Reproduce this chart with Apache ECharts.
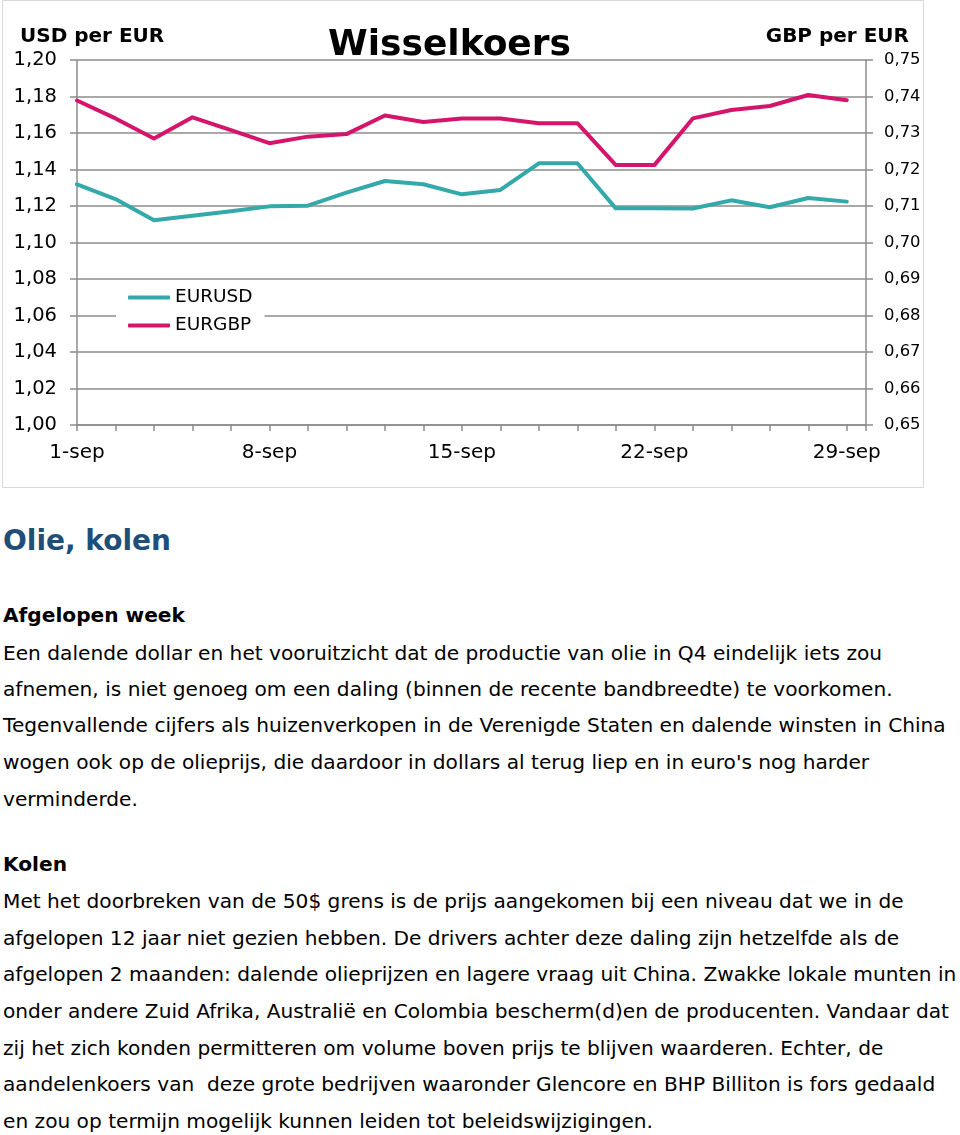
<!DOCTYPE html>
<html>
<head>
<meta charset="utf-8">
<script src="https://cdn.jsdelivr.net/npm/echarts@6/dist/echarts.min.js"></script>
<style>
  html, body { margin: 0; padding: 0; background: #fff; }
  body { width: 960px; height: 1135px; position: relative; overflow: hidden; font-family: "DejaVu Sans", Verdana, sans-serif; color: #000; }
  #chart { position: absolute; left: 0; top: 0; width: 960px; height: 490px; }
  .ln { position: absolute; left: 3px; white-space: pre; font-size: 20.15px; line-height: 36px; height: 36px; }
  .b { font-weight: bold; }
  .h { font-weight: bold; color: #1F4E79; font-size: 28px; line-height: 40px; height: 40px; }
</style>
</head>
<body>
<div id="chart"></div>
<div class="ln h" style="top:521px">Olie, kolen</div>
<div class="ln b" style="top:597px">Afgelopen week</div>
<div class="ln" style="top:635px">Een dalende dollar en het vooruitzicht dat de productie van olie in Q4 eindelijk iets zou</div>
<div class="ln" style="top:671px">afnemen, is niet genoeg om een daling (binnen de recente bandbreedte) te voorkomen.</div>
<div class="ln" style="top:707px">Tegenvallende cijfers als huizenverkopen in de Verenigde Staten en dalende winsten in China</div>
<div class="ln" style="top:744px">wogen ook op de olieprijs, die daardoor in dollars al terug liep en in euro's nog harder</div>
<div class="ln" style="top:781px">verminderde.</div>
<div class="ln b" style="top:846px">Kolen</div>
<div class="ln" style="top:883px">Met het doorbreken van de 50$ grens is de prijs aangekomen bij een niveau dat we in de</div>
<div class="ln" style="top:920px">afgelopen 12 jaar niet gezien hebben. De drivers achter deze daling zijn hetzelfde als de</div>
<div class="ln" style="top:956px">afgelopen 2 maanden: dalende olieprijzen en lagere vraag uit China. Zwakke lokale munten in</div>
<div class="ln" style="top:993px">onder andere Zuid Afrika, Australië en Colombia bescherm(d)en de producenten. Vandaar dat</div>
<div class="ln" style="top:1030px">zij het zich konden permitteren om volume boven prijs te blijven waarderen. Echter, de</div>
<div class="ln" style="top:1066px">aandelenkoers van  deze grote bedrijven waaronder Glencore en BHP Billiton is fors gedaald</div>
<div class="ln" style="top:1103px">en zou op termijn mogelijk kunnen leiden tot beleidswijzigingen.</div>
<script>
// Business days of September (x categories)
var dates = ['1-sep','2-sep','3-sep','4-sep','7-sep','8-sep','9-sep','10-sep','11-sep',
             '14-sep','15-sep','16-sep','17-sep','18-sep','21-sep','22-sep','23-sep','24-sep','25-sep',
             '28-sep','29-sep'];
// EUR/USD (left axis)
var eurusd = [1.1319,1.1238,1.1122,1.1147,1.1171,1.1198,1.1202,1.1273,1.1337,1.1319,1.1264,
              1.1288,1.1434,1.1434,1.1187,1.1187,1.1186,1.1231,1.1193,1.1244,1.1224];
// EUR/GBP (right axis)
var eurgbp = [0.7389,0.7340,0.7285,0.7343,0.7308,0.7272,0.7290,0.7297,0.7348,0.7330,0.7340,
              0.7340,0.7327,0.7327,0.7212,0.7212,0.7340,0.7363,0.7374,0.7404,0.7390];
var seriesNames = ['EURUSD','EURGBP'];
var leftTicks = {min: 1.00, max: 1.20, interval: 0.02};
var rightTicks = {min: 0.65, max: 0.75, interval: 0.01};

var FONT = '"DejaVu Sans", Verdana, sans-serif';
var GRID = '#8c8c8c';
function comma(v){ return v.toFixed(2).replace('.', ','); }

var chart = echarts.init(document.getElementById('chart'), null, {renderer: 'canvas'});
chart.setOption({
  animation: false,
  textStyle: {fontFamily: FONT},
  graphic: [
    {type: 'rect', shape: {x: 2.5, y: 0.5, width: 921, height: 487}, style: {fill: 'none', stroke: '#d9d9d9', lineWidth: 1}, z: -1},
    {type: 'text', left: 328, top: 28, style: {text: 'Wisselkoers', font: 'bold 36px ' + FONT, fill: '#000'}},
    {type: 'text', left: 20, top: 27, style: {text: 'USD per EUR', font: 'bold 20px ' + FONT, fill: '#000'}},
    {type: 'text', right: 51, top: 27, style: {text: 'GBP per EUR', font: 'bold 20px ' + FONT, fill: '#000'}}
  ],
  grid: {left: 77, right: 94, top: 60, bottom: 65},
  legend: {
    orient: 'vertical', left: 116, top: 284, itemGap: 9,
    padding: [4, 12, 4, 12],
    backgroundColor: '#fff',
    itemWidth: 42, itemHeight: 4, icon: 'roundRect',
    textStyle: {fontSize: 18.5, color: '#000', fontFamily: FONT},
    data: seriesNames
  },
  xAxis: {
    type: 'value', min: 0, max: dates.length - 0.5, interval: 1,
    axisLine: {show: true, lineStyle: {color: GRID, width: 1.5}},
    axisTick: {show: true, length: 6, lineStyle: {color: GRID, width: 1.5}},
    splitLine: {show: false},
    axisLabel: {
      fontSize: 20, color: '#000', margin: 18, fontFamily: FONT,
      formatter: function(v){ return (Number.isInteger(v) && v % 5 === 0 && dates[v]) ? dates[v] : ''; }
    }
  },
  yAxis: [
    {
      type: 'value', position: 'left', min: leftTicks.min, max: leftTicks.max, interval: leftTicks.interval,
      axisLine: {show: true, lineStyle: {color: GRID, width: 1.5}},
      axisTick: {show: true, length: 7, lineStyle: {color: GRID, width: 1.5}},
      splitLine: {show: true, lineStyle: {color: GRID, width: 1.5}},
      axisLabel: {fontSize: 19.5, color: '#000', margin: 20, fontFamily: FONT, formatter: comma}
    },
    {
      type: 'value', position: 'right', min: rightTicks.min, max: rightTicks.max, interval: rightTicks.interval,
      axisLine: {show: true, lineStyle: {color: GRID, width: 1.5}},
      axisTick: {show: true, length: 7, lineStyle: {color: GRID, width: 1.5}},
      splitLine: {show: false},
      axisLabel: {fontSize: 16.4, color: '#000', margin: 18, fontFamily: FONT, formatter: comma}
    }
  ],
  series: [
    {
      name: seriesNames[0], type: 'line', yAxisIndex: 0, showSymbol: false, symbol: 'none',
      lineStyle: {color: '#33a9a9', width: 4, cap: 'round', join: 'round'},
      itemStyle: {color: '#33a9a9'},
      data: eurusd.map(function(v, i){ return [i, v]; })
    },
    {
      name: seriesNames[1], type: 'line', yAxisIndex: 1, showSymbol: false, symbol: 'none',
      lineStyle: {color: '#d5156b', width: 4, cap: 'round', join: 'round'},
      itemStyle: {color: '#d5156b'},
      data: eurgbp.map(function(v, i){ return [i, v]; })
    }
  ]
});
</script>
</body>
</html>
